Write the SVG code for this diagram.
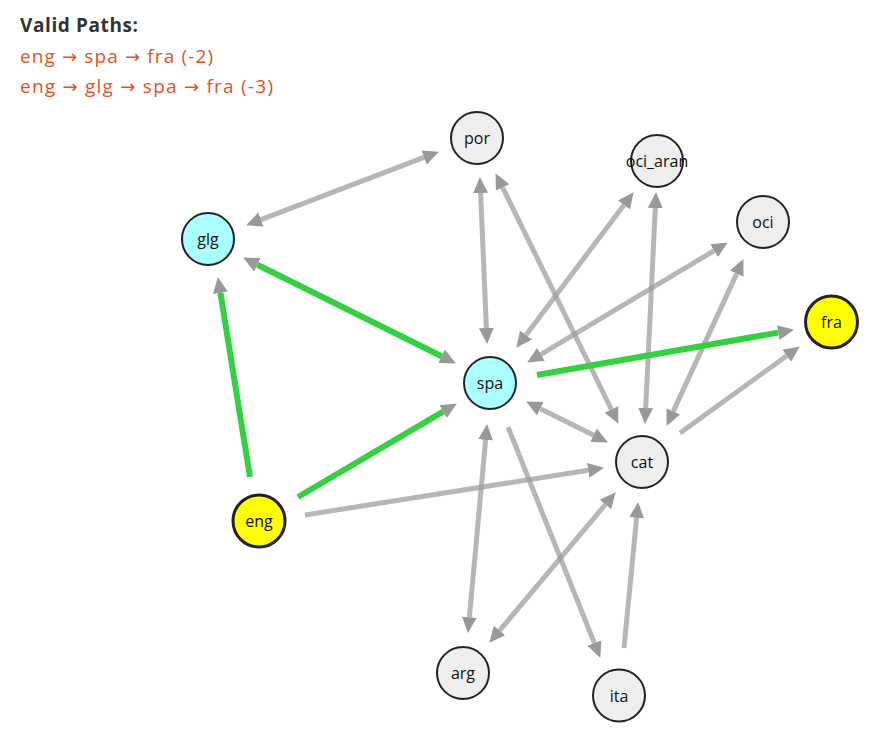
<svg xmlns="http://www.w3.org/2000/svg" width="890" height="753" viewBox="0 0 890 753">
<defs>
<style>
.hdr{font-family:"Open Sans","Noto Sans","Liberation Sans",sans-serif;font-size:19px}
.title{font-weight:bold;fill:#333}
.path{fill:#e0531f}
.arr{font-family:"DejaVu Sans","Liberation Sans",sans-serif;font-size:18px}
.e{stroke:#9a9a9a;stroke-opacity:0.72;stroke-width:5;fill:none}
.g{stroke:#33d13f;stroke-width:6;fill:none}
.n circle{stroke:#222;stroke-width:2}
.n text{font-family:"Open Sans","Noto Sans","Liberation Sans",sans-serif;font-size:16px;fill:#111;text-anchor:middle;dominant-baseline:central}
.hl circle{stroke-width:3}
</style>
<marker id="ah" markerUnits="userSpaceOnUse" markerWidth="16" markerHeight="16" viewBox="0 0 15 14" refX="0" refY="7" orient="auto-start-reverse">
<path d="M0,0 L15,7 L0,14 z" fill="#999"/>
</marker>
</defs>
<rect width="890" height="753" fill="#fff"/>
<g id="header" class="hdr">
<text class="title" x="20" y="32" textLength="118">Valid Paths:</text>
<text class="path" x="20" y="63" textLength="193">eng <tspan class="arr">→</tspan> spa <tspan class="arr">→</tspan> fra (-2)</text>
<text class="path" x="20" y="93" textLength="253">eng <tspan class="arr">→</tspan> glg <tspan class="arr">→</tspan> spa <tspan class="arr">→</tspan> fra (-3)</text>
</g>
<g id="edges">
<line class="e" x1="261" y1="219.6" x2="424" y2="157.4" marker-start="url(#ah)" marker-end="url(#ah)"/>
<line class="e" x1="480.6" y1="193" x2="486.4" y2="328" marker-start="url(#ah)" marker-end="url(#ah)"/>
<line class="e" x1="502.6" y1="187.5" x2="611.4" y2="409.5" marker-start="url(#ah)" marker-end="url(#ah)"/>
<line class="e" x1="655.3" y1="208" x2="645.7" y2="408" marker-start="url(#ah)" marker-end="url(#ah)"/>
<line class="e" x1="736.7" y1="273.6" x2="673.3" y2="411.4" marker-start="url(#ah)" marker-end="url(#ah)"/>
<line class="e" x1="540.9" y1="354.3" x2="714.1" y2="250.7" marker-start="url(#ah)" marker-end="url(#ah)"/>
<line class="e" x1="526" y1="335" x2="624" y2="205" marker-start="url(#ah)" marker-end="url(#ah)"/>
<line class="e" x1="680" y1="433" x2="786.8" y2="355.8" marker-end="url(#ah)"/>
<line class="e" x1="540.4" y1="408.7" x2="593.6" y2="435.3" marker-start="url(#ah)" marker-end="url(#ah)"/>
<line class="e" x1="305" y1="515" x2="588.2" y2="470.3" marker-end="url(#ah)"/>
<line class="e" x1="485.6" y1="439.9" x2="469.4" y2="617.1" marker-start="url(#ah)" marker-end="url(#ah)"/>
<line class="e" x1="508" y1="427" x2="594.4" y2="643.1" marker-end="url(#ah)"/>
<line class="e" x1="605.4" y1="504.5" x2="499.6" y2="630.5" marker-start="url(#ah)" marker-end="url(#ah)"/>
<line class="e" x1="624" y1="648" x2="636.6" y2="517.9" marker-end="url(#ah)"/>
<line class="g" x1="441.6" y1="356.3" x2="257.4" y2="264.7" marker-start="url(#ah)" marker-end="url(#ah)"/>
<line class="g" x1="250" y1="477" x2="220.4" y2="292.8" marker-end="url(#ah)"/>
<line class="g" x1="298" y1="497" x2="443.1" y2="411.6" marker-end="url(#ah)"/>
<line class="g" x1="537" y1="375" x2="778.2" y2="332.6" marker-end="url(#ah)"/>
</g>
<g id="node-por" class="n"><circle cx="477" cy="138" r="26" fill="#eeeeee"/><text x="477" y="138">por</text></g>
<g id="node-oci_aran" class="n"><circle cx="657" cy="161" r="26" fill="#eeeeee"/><text x="657" y="161">oci_aran</text></g>
<g id="node-oci" class="n"><circle cx="763" cy="222" r="26" fill="#eeeeee"/><text x="763" y="222">oci</text></g>
<g id="node-glg" class="n"><circle cx="208" cy="239" r="26" fill="#aaffff"/><text x="208" y="239">glg</text></g>
<g id="node-fra" class="n hl"><circle cx="831.5" cy="322" r="26" fill="#ffff00"/><text x="831.5" y="322">fra</text></g>
<g id="node-spa" class="n"><circle cx="490" cy="383" r="26" fill="#aaffff"/><text x="490" y="383">spa</text></g>
<g id="node-cat" class="n"><circle cx="642" cy="462" r="26" fill="#eeeeee"/><text x="642" y="462">cat</text></g>
<g id="node-eng" class="n hl"><circle cx="259" cy="521" r="26" fill="#ffff00"/><text x="259" y="521">eng</text></g>
<g id="node-arg" class="n"><circle cx="463" cy="673" r="26" fill="#eeeeee"/><text x="463" y="673">arg</text></g>
<g id="node-ita" class="n"><circle cx="619" cy="695.5" r="26" fill="#eeeeee"/><text x="619" y="695.5">ita</text></g>
</svg>
